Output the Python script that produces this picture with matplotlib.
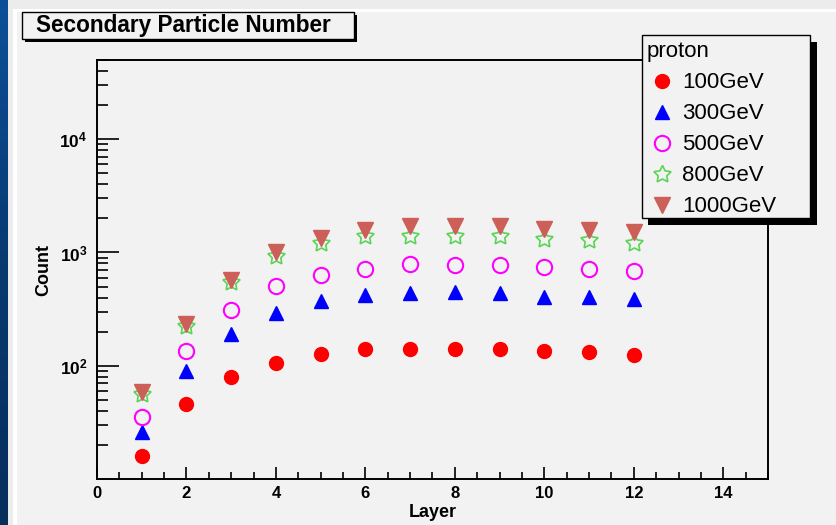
import matplotlib
matplotlib.use('Agg')
import matplotlib.pyplot as plt
import numpy as np
from matplotlib.patches import Rectangle
from matplotlib.colors import LinearSegmentedColormap
from matplotlib.ticker import FixedLocator, FixedFormatter, MultipleLocator, LogLocator, NullFormatter

plt.rcParams['font.family'] = ['Liberation Sans', 'DejaVu Sans']
plt.rcParams['mathtext.fontset'] = 'custom'
plt.rcParams['mathtext.rm'] = 'Liberation Sans:bold'
plt.rcParams['mathtext.it'] = 'Liberation Sans:bold'
plt.rcParams['mathtext.bf'] = 'Liberation Sans:bold'

# ---------------- data ----------------
layers = [1, 2, 3, 4, 5, 6, 7, 8, 9, 10, 11, 12]
p100 = [16, 46, 80, 106, 126, 141, 141, 140, 140, 136, 131, 125]
p300 = [26, 90, 190, 294, 376, 422, 443, 452, 437, 408, 408, 390]
p500 = [35, 136, 311, 501, 635, 717, 789, 778, 778, 742, 717, 689]
p800 = [56, 224, 543, 922, 1211, 1386, 1406, 1406, 1386, 1315, 1277, 1211]
p1000 = [59, 234, 573, 1000, 1341, 1566, 1699, 1722, 1699, 1621, 1566, 1503]
series_labels = ['100GeV', '300GeV', '500GeV', '800GeV', '1000GeV']
legend_title = 'proton'
title = 'Secondary Particle Number'
xlabel = 'Layer'
ylabel = 'Count'
xticks = [0, 2, 4, 6, 8, 10, 12, 14]
xtick_labels = ['0', '2', '4', '6', '8', '10', '12', '14']
yticks = [1e2, 1e3, 1e4]
ytick_labels = [r'$10^{2}$', r'$10^{3}$', r'$10^{4}$']

# ---------------- figure ----------------
W, H = 837, 525
BG = '#f2f2f2'
fig = plt.figure(figsize=(W / 100, H / 100), dpi=100)
fig.patch.set_facecolor(BG)


def px_rect(x0, y0, x1, y1, **kw):
    r = Rectangle((x0 / W, 1 - y1 / H), (x1 - x0) / W, (y1 - y0) / H,
                  transform=fig.transFigure, **kw)
    fig.add_artist(r)
    return r


# slide decoration
px_rect(8, 0, W, 9, facecolor='#ececec', edgecolor='none', zorder=-2)
px_rect(8, 0, 13, H, facecolor='#ececec', edgecolor='none', zorder=-2)
px_rect(13, 9, W, 12, facecolor='white', edgecolor='none', zorder=-2)
px_rect(13, 9, 17, H, facecolor='white', edgecolor='none', zorder=-2)
bax = fig.add_axes([0, 0, 8 / W, 1], zorder=-3)
grad = np.linspace(0, 1, 256).reshape(-1, 1)
cm = LinearSegmentedColormap.from_list('slide', ['#0c5099', '#083a70', '#062f5c'])
bax.imshow(grad, aspect='auto', cmap=cm, extent=[0, 1, 0, 1], origin='upper')
bax.set_axis_off()

# main axes
ax = fig.add_axes([97 / W, 1 - 479 / H, (768 - 97) / W, (479 - 60) / H])
ax.set_facecolor(BG)

ax.plot(layers, p100, ls='none', marker='o', ms=10, color='#ff0000', label=series_labels[0])
ax.plot(layers, p300, ls='none', marker='^', ms=10, color='#0000ff', label=series_labels[1])
ax.plot(layers, p500, ls='none', marker='o', ms=11, mfc='none', mec='#ff00ff', mew=1.5,
        label=series_labels[2])
ax.plot(layers, p800, ls='none', marker=(5, 1, 0), ms=13, mfc='none', mec='#59d454', mew=1.2,
        label=series_labels[3])
ax.plot(layers, p1000, ls='none', marker='v', ms=11, color='#cc5f58', label=series_labels[4])

ax.set_yscale('log')
ax.set_xlim(0, 15)
ax.set_ylim(10, 5e4)

ax.xaxis.set_major_locator(FixedLocator(xticks))
ax.xaxis.set_major_formatter(FixedFormatter(xtick_labels))
ax.xaxis.set_minor_locator(MultipleLocator(0.5))
ax.yaxis.set_major_locator(FixedLocator(yticks))
ax.yaxis.set_major_formatter(FixedFormatter(ytick_labels))
ax.yaxis.set_minor_locator(LogLocator(base=10, subs=range(2, 10)))
ax.yaxis.set_minor_formatter(NullFormatter())

ax.tick_params(axis='x', which='major', direction='in', length=9, width=1.2, labelsize=12, pad=5)
ax.tick_params(axis='x', which='minor', direction='in', length=4.8, width=1.2)
ax.tick_params(axis='y', which='major', direction='in', length=15.8, width=1.2, labelsize=12.5, pad=7)
ax.tick_params(axis='y', which='minor', direction='in', length=7.9, width=1.2)
for lab in ax.get_xticklabels():
    lab.set_fontweight('bold')

for s in ax.spines.values():
    s.set_linewidth(1.4)

ax.set_xlabel(xlabel, fontsize=13, fontweight='bold', labelpad=2)
ax.set_ylabel(ylabel, fontsize=13, fontweight='bold', labelpad=5)

# title box with shadow
px_rect(25, 15, 357, 42, facecolor='black', edgecolor='none', zorder=2)
px_rect(22, 12, 354, 39, facecolor=BG, edgecolor='black', lw=1, zorder=3)
fig.text(36 / W, 1 - 32 / H, title, fontsize=16.3, fontweight='bold', va='baseline', ha='left', zorder=4)

# legend box with shadow
px_rect(648, 42, 817, 225, facecolor='black', edgecolor='none', zorder=2)
px_rect(642, 35, 810, 218, facecolor=BG, edgecolor='black', lw=1, zorder=3)
handles, labels = ax.get_legend_handles_labels()
leg = fig.legend(handles, labels, loc='upper left', bbox_to_anchor=(636.4 / W, 1 - 31.4 / H),
                 frameon=False, fontsize=16, title=legend_title, title_fontsize=16,
                 alignment='left', borderpad=0.45, handlelength=1.37, handletextpad=0.24,
                 labelspacing=0.45, borderaxespad=0)
leg.set_zorder(6)

fig.savefig('out.png', dpi=100, facecolor=BG)
